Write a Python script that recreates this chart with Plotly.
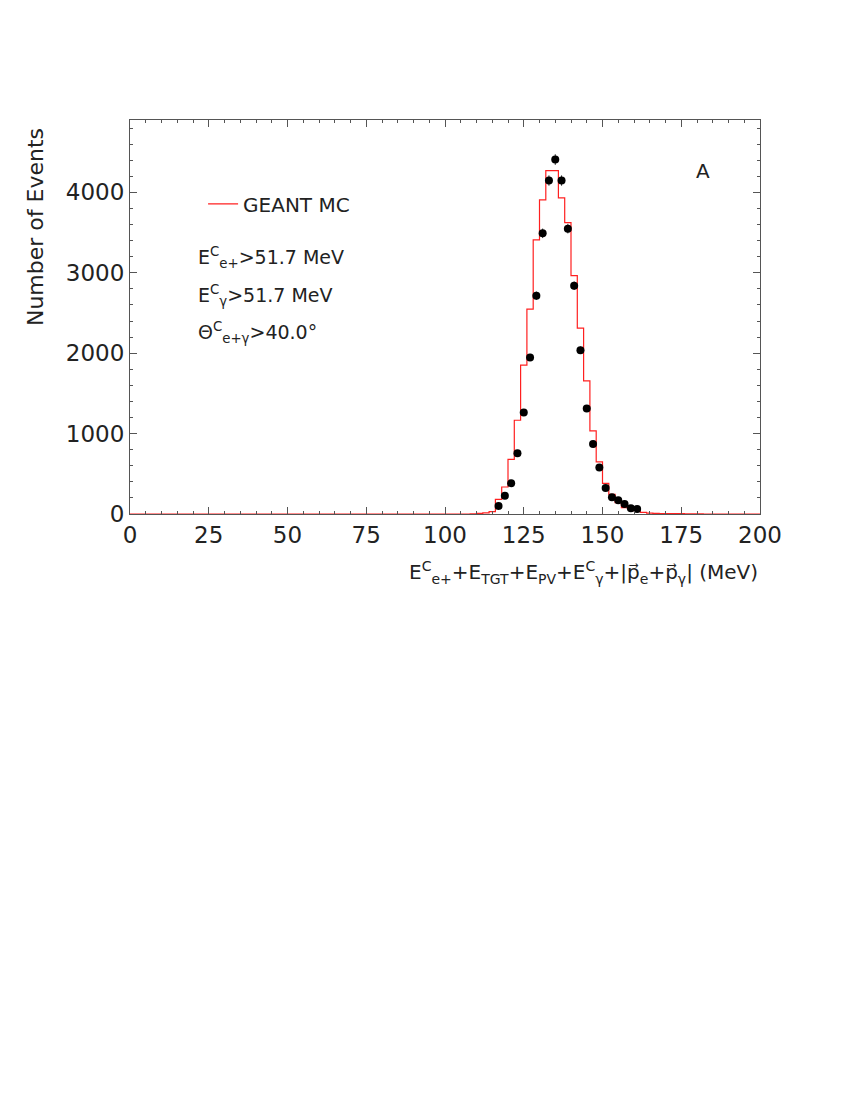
import numpy as np
import plotly.graph_objects as go

# ---- data ----
bin_width = 2.0
mc_first_edge = 108.0
mc_counts = [3, 8, 15, 30, 183, 336, 680, 1166, 1851, 2548, 3408, 3906, 4271, 4271,
             3931, 3624, 2964, 2312, 1656, 1034, 648, 382, 245, 141, 79, 66, 37, 20,
             12, 8, 6, 5, 4, 4, 3, 3, 2, 0]

data_x = [117, 119, 121, 123, 125, 127, 129, 131, 133, 135, 137, 139, 141, 143,
          145, 147, 149, 151, 153, 155, 157, 159, 161]
data_y = [100, 228, 382, 756, 1262, 1947, 2715, 3491, 4147, 4408, 4147, 3549, 2839,
          2038, 1312, 872, 577, 324, 208, 170, 124, 71, 62]

x_ticks = [0, 25, 50, 75, 100, 125, 150, 175, 200]
y_ticks = [0, 1000, 2000, 3000, 4000]

# ---- build full histogram over 0..200 ----
edges = np.arange(0, 200 + bin_width, bin_width)
counts = np.zeros(len(edges) - 1)
start = int(round(mc_first_edge / bin_width))
counts[start:start + len(mc_counts)] = mc_counts
step_x = list(edges)
step_y = list(counts) + [counts[-1]]

FONT = "DejaVu Sans"
TXT = "#222222"

fig = go.Figure()
fig.add_trace(go.Scatter(
    x=step_x, y=step_y, mode="lines", line=dict(color="#ff2020", width=1.2, shape="hv"),
    name="GEANT MC", showlegend=True))
fig.add_trace(go.Scatter(
    x=data_x, y=data_y, mode="markers",
    marker=dict(color="black", size=8),
    error_y=dict(type="data", array=list(np.sqrt(data_y)), color="#333333", thickness=1, width=0),
    showlegend=False))

axis_common = dict(
    showgrid=False, zeroline=False, showline=True, linecolor="#555555", linewidth=1,
    mirror="ticks", ticks="inside", tickcolor="#555555", ticklen=7, tickwidth=1,
    tickfont=dict(family=FONT, size=23, color=TXT),
)
fig.update_xaxes(range=[0, 200], tickvals=x_ticks, ticktext=[str(v) for v in x_ticks],
                 minor=dict(dtick=5, ticks="inside", ticklen=3, tickcolor="#555555"),
                 **axis_common)
fig.update_yaxes(range=[0, 4900], tickvals=y_ticks, ticktext=[str(v) for v in y_ticks],
                 minor=dict(dtick=200, ticks="inside", ticklen=3, tickcolor="#555555"),
                 **axis_common)

annots = [
    dict(x=-0.151, y=0.728, xref="paper", yref="paper", xanchor="center", yanchor="middle",
         text="Number of Events",
         textangle=-90, showarrow=False, font=dict(family=FONT, size=22, color=TXT)),
    dict(x=1.0, y=-0.149, xref="paper", yref="paper", xanchor="right", yanchor="middle",
         text=("E<sup>C</sup><sub>e+</sub>+E<sub>TGT</sub>+E<sub>PV</sub>+"
               "E<sup>C</sup><sub>γ</sub>+|p\u20d7<sub>e</sub>+p\u20d7<sub>γ</sub>| (MeV)"),
         showarrow=False, font=dict(family=FONT, size=20, color=TXT)),
    dict(x=0.105, y=0.65, xref="paper", yref="paper", xanchor="left", yanchor="middle",
         text="E<sup>C</sup><sub>e+</sub>>51.7 MeV", showarrow=False,
         font=dict(family=FONT, size=19, color=TXT)),
    dict(x=0.105, y=0.555, xref="paper", yref="paper", xanchor="left", yanchor="middle",
         text="E<sup>C</sup><sub>γ</sub>>51.7 MeV", showarrow=False,
         font=dict(family=FONT, size=19, color=TXT)),
    dict(x=0.105, y=0.46, xref="paper", yref="paper", xanchor="left", yanchor="middle",
         text="Θ<sup>C</sup><sub>e+γ</sub>>40.0°", showarrow=False,
         font=dict(family=FONT, size=19, color=TXT)),
    dict(x=0.9095, y=0.870, xref="paper", yref="paper", xanchor="center", yanchor="middle",
         text="A", showarrow=False,
         font=dict(family=FONT, size=20, color=TXT)),
]

fig.update_layout(
    width=842, height=1092,
    margin=dict(l=122, r=90, t=112, b=586),
    paper_bgcolor="white", plot_bgcolor="white",
    annotations=annots,
    legend=dict(x=0.116, y=0.787, xanchor="left", yanchor="middle", bgcolor="rgba(0,0,0,0)",
                font=dict(family=FONT, size=20, color=TXT), itemwidth=30),
)

fig.write_html("out.html")
